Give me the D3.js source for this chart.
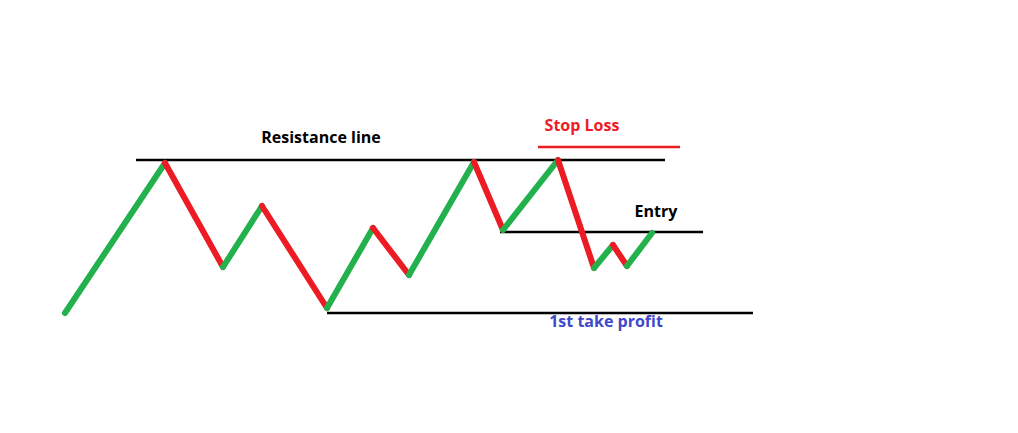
<!DOCTYPE html>
<html><head><meta charset="utf-8">
<script src="https://cdn.jsdelivr.net/npm/d3@7"></script>
<style>body{margin:0;background:#fff}</style>
</head><body>
<svg id="chart" width="1018" height="433"></svg>
<script>
// swing points: time and price (price = pixels above bottom)
var times  = [65,165,223,262,327,373,409,474,503,558,594,613,627,652];
var prices = [120,270,166,227,125,205,158,271,203,273,165,188,167,200];

// horizontal levels
var levelNames  = ["Resistance line","Stop Loss","Entry","1st take profit"];
var levelPrices = [273,286,201,120];
var levelFrom   = [136,538,500,327];
var levelTo     = [665,680,703,753];
var levelColors = ["#000","#ed1c24","#000","#000"];
var labelX      = [321,582,656,606];
var labelPrice  = [290,302,216,106];
var labelColors = ["#000","#ed1c24","#000","#3f48cc"];

var x = d3.scaleLinear().domain([0,1018]).range([0,1018]);
var y = d3.scaleLinear().domain([0,433]).range([433,0]);
var svg = d3.select("#chart");

svg.selectAll("line.level").data(levelPrices).enter().append("line")
  .attr("x1",function(d,i){return x(levelFrom[i]);})
  .attr("x2",function(d,i){return x(levelTo[i]);})
  .attr("y1",function(d){return y(d);}).attr("y2",function(d){return y(d);})
  .attr("stroke",function(d,i){return levelColors[i];})
  .attr("stroke-width",2.5);

var segs = d3.range(times.length-1);
svg.selectAll("line.seg").data(segs).enter().append("line")
  .attr("x1",function(i){return x(times[i]);})
  .attr("y1",function(i){return y(prices[i]);})
  .attr("x2",function(i){return x(times[i+1]);})
  .attr("y2",function(i){return y(prices[i+1]);})
  .attr("stroke",function(i){return prices[i+1]>prices[i]?"#22b14c":"#ed1c24";})
  .attr("stroke-width",6).attr("stroke-linecap","round");

svg.selectAll("text").data(levelNames).enter().append("text")
  .attr("x",function(d,i){return x(labelX[i]);})
  .attr("y",function(d,i){return y(labelPrice[i]);})
  .attr("text-anchor","middle")
  .attr("fill",function(d,i){return labelColors[i];})
  .style("font","bold 16px 'Open Sans', sans-serif")
  .text(function(d){return d;});
</script>
</body></html>
